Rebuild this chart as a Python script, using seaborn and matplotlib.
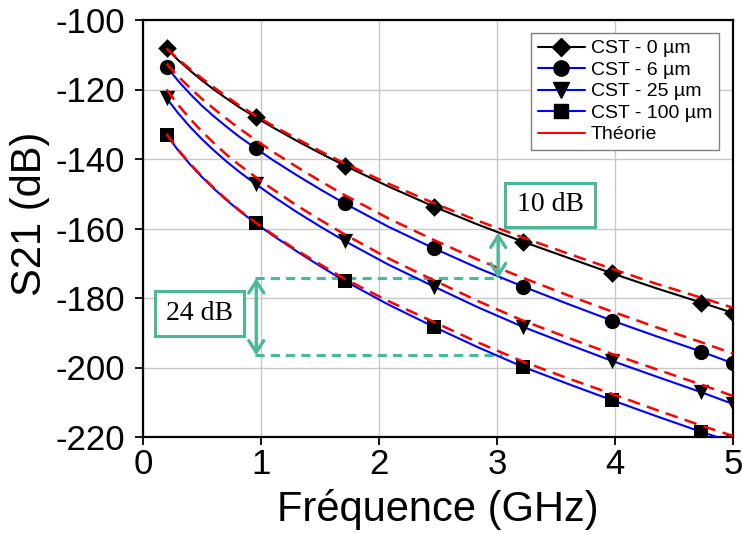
import matplotlib
matplotlib.use("Agg")
import matplotlib.pyplot as plt
import seaborn as sns
import pandas as pd
from matplotlib.lines import Line2D
from matplotlib.patches import Rectangle

# ---------------- data ----------------
freq = [0.2, 0.3, 0.4, 0.5, 0.6, 0.7, 0.82, 0.955, 1.1, 1.3, 1.5, 1.71, 2.08, 2.465,
        2.84, 3.22, 3.6, 3.975, 4.35, 4.73, 5.0]
marker_idx = [0, 7, 11, 13, 15, 17, 19, 20]

cst_0um = [-108.2, -111.6, -114.6, -117.4, -120.0, -122.4, -125.2, -128.0, -130.9, -134.7,
           -138.3, -141.9, -147.9, -153.7, -158.9, -163.8, -168.4, -172.9, -177.2, -181.3, -184.3]
cst_6um = [-113.4, -117.6, -121.3, -124.7, -127.7, -130.5, -133.7, -136.9, -140.3, -144.6,
           -148.7, -152.8, -159.5, -165.7, -171.4, -176.7, -181.7, -186.5, -191.0, -195.4, -198.8]
cst_25um = [-122.5, -126.9, -130.8, -134.3, -137.5, -140.5, -143.8, -147.2, -150.7, -155.2,
            -159.4, -163.6, -170.4, -176.7, -182.7, -188.3, -193.3, -198.1, -202.6, -207.1, -210.5]
cst_100um = [-133.1, -137.6, -141.6, -145.2, -148.5, -151.6, -155.0, -158.5, -162.0, -166.5,
             -170.8, -175.1, -181.9, -188.3, -194.2, -199.8, -204.7, -209.4, -214.0, -218.5, -221.5]

theo_0um = [-108.2, -111.3, -114.1, -116.8, -119.4, -121.8, -124.7, -127.5, -130.4, -134.1,
            -137.7, -141.3, -147.1, -152.7, -157.8, -162.6, -167.2, -171.6, -175.9, -179.9, -182.8]
theo_6um = [-112.6, -116.3, -119.6, -122.7, -125.5, -128.2, -131.3, -134.5, -137.9, -142.2,
            -146.3, -150.4, -157.1, -163.3, -169.0, -174.2, -179.2, -183.9, -188.4, -192.7, -196.0]
theo_25um = [-120.0, -124.5, -128.5, -132.1, -135.4, -138.5, -141.8, -145.2, -148.7, -153.3,
             -157.5, -161.7, -168.6, -174.9, -180.9, -186.5, -191.4, -196.1, -200.5, -204.9, -208.2]
theo_100um = [-132.8, -137.4, -141.4, -145.0, -148.3, -151.4, -154.8, -158.3, -161.7, -166.2,
              -170.3, -174.5, -180.9, -186.9, -192.8, -198.3, -203.1, -207.6, -212.2, -216.7, -219.7]

labels = ["CST - 0 µm", "CST - 6 µm", "CST - 25 µm", "CST - 100 µm"]
theory_label = "Théorie"
x_ticks = [0, 1, 2, 3, 4, 5]
y_ticks = [-220, -200, -180, -160, -140, -120, -100]

# annotation values
gap_small_label = "10 dB"
gap_large_label = "24 dB"
level_upper = -174.3
level_lower = -196.5
level_top = -161.2

# ---------------- style ----------------
sns.set_theme(style="whitegrid")
plt.rcParams["font.family"] = ["Liberation Sans", "DejaVu Sans"]
plt.rcParams["axes.unicode_minus"] = False
plt.rcParams["axes.edgecolor"] = "black"
plt.rcParams["text.color"] = "black"
plt.rcParams["axes.labelcolor"] = "black"
plt.rcParams["xtick.color"] = "black"
plt.rcParams["ytick.color"] = "black"

teal = "#4BB89A"

fig = plt.figure(figsize=(7.42, 5.34), dpi=100)
ax = fig.add_axes([143 / 742, 1 - 437 / 534, 590 / 742, 417 / 534])

series = [cst_0um, cst_6um, cst_25um, cst_100um]
theories = [theo_0um, theo_6um, theo_25um, theo_100um]
colors = ["black", "#0000FF", "#0000FF", "#0000FF"]
markers = ["D", "o", "v", "s"]
msizes = [9.5, 11, 11, 10]

for vals, col in zip(series, colors):
    df = pd.DataFrame({"f": freq, "s21": vals})
    sns.lineplot(data=df, x="f", y="s21", color=col, lw=1.5, ax=ax, zorder=3)

for vals, mk, ms in zip(series, markers, msizes):
    df = pd.DataFrame({"f": [freq[i] for i in marker_idx],
                       "s21": [vals[i] for i in marker_idx]})
    sns.scatterplot(data=df, x="f", y="s21", marker=mk, s=ms ** 2, color="black",
                    edgecolor="black", linewidth=0, ax=ax, zorder=4)

for vals in theories:
    df = pd.DataFrame({"f": freq, "s21": vals})
    sns.lineplot(data=df, x="f", y="s21", color="#FF0000", lw=1.8, ax=ax,
                 dashes=False, zorder=5)
    ax.lines[-1].set_dashes((5, 3))

# annotations
ax.plot([0.95, 3.04], [level_upper, level_upper], color=teal, lw=2.2, dashes=(3, 2), zorder=2)
ax.plot([0.95, 3.04], [level_lower, level_lower], color=teal, lw=2.2, dashes=(3, 2), zorder=2)
arrow_style = dict(arrowstyle="<->,head_length=0.7,head_width=0.45", color=teal, lw=2.4,
                   shrinkA=0, shrinkB=0)
ax.annotate("", xy=(3.01, level_top), xytext=(3.01, level_upper), arrowprops=arrow_style, zorder=6)
ax.annotate("", xy=(0.96, level_upper), xytext=(0.96, level_lower), arrowprops=arrow_style, zorder=6)

ax.add_patch(Rectangle((3.07, -159.6), 0.76, 12.7, fill=True, facecolor="white",
                       edgecolor=teal, lw=2.2, zorder=6))
ax.text(3.45, -153.2, gap_small_label, ha="center", va="center", fontsize=20,
        family="Liberation Serif", zorder=7)
ax.add_patch(Rectangle((0.10, -191.0), 0.76, 13.0, fill=True, facecolor="white",
                       edgecolor=teal, lw=2.2, zorder=6))
ax.text(0.48, -184.5, gap_large_label, ha="center", va="center", fontsize=20,
        family="Liberation Serif", zorder=7)

# axes
ax.set_xlim(0, 5)
ax.set_ylim(-220, -100)
ax.set_xticks(x_ticks)
ax.set_yticks(y_ticks)
ax.tick_params(axis="both", which="major", labelsize=25, direction="out", length=6,
               width=1.3, color="black", labelcolor="black", left=True, bottom=True)
ax.tick_params(axis="x", pad=2)
ax.tick_params(axis="y", pad=7)
for sp in ax.spines.values():
    sp.set_color("black")
    sp.set_linewidth(1.6)
ax.grid(True, color="#c8c8c8", lw=1.0)
ax.set_axisbelow(True)

ax.set_xlabel("Fréquence (GHz)", fontsize=30, va="center", color="black")
ax.set_ylabel("S21 (dB)", fontsize=30, va="center", color="black")
ax.xaxis.set_label_coords(0.5, -0.175)
ax.yaxis.set_label_coords(-0.192, 0.535)

# legend
handles = [Line2D([], [], color=c, lw=1.5, marker=m, markersize=s,
                  markerfacecolor="black", markeredgecolor="black")
           for c, m, s in zip(colors, markers, msizes)]
handles.append(Line2D([], [], color="#FF0000", lw=1.5))
leg = ax.legend(handles, labels + [theory_label], loc="upper right",
                bbox_to_anchor=(0.976, 0.969), borderaxespad=0, fontsize=14,
                frameon=True, fancybox=False, edgecolor="#808080", framealpha=1,
                handlelength=2.4, handletextpad=0.3, labelspacing=0.2, borderpad=0.35)
leg.get_frame().set_linewidth(1.0)
for t in leg.get_texts():
    t.set_color("black")
leg.set_zorder(10)

fig.savefig("out.png", dpi=100)
